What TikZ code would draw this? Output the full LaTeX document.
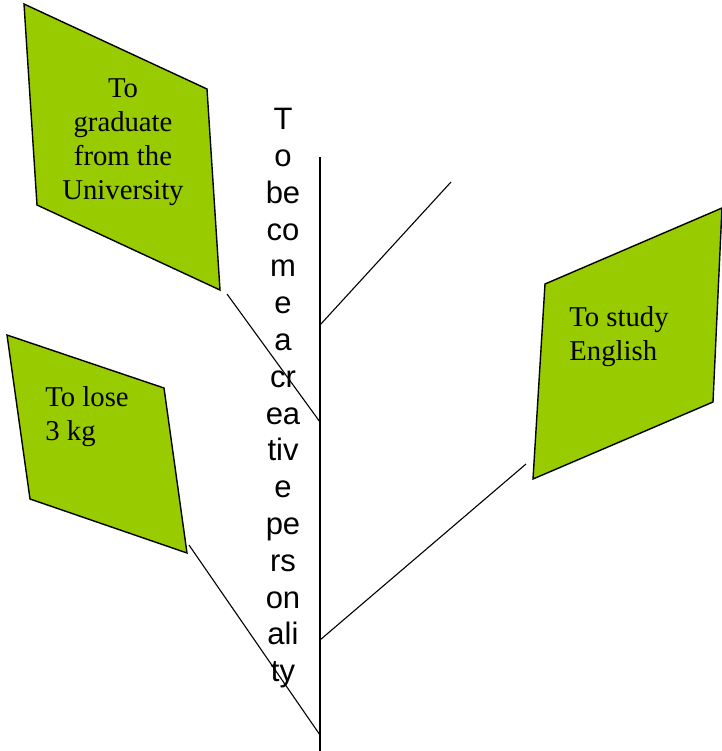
\documentclass[tikz,border=0pt]{standalone}
\usepackage{fontspec}
\setmainfont{Liberation Serif}
\setsansfont{Liberation Sans}
\definecolor{leafgreen}{HTML}{99CC00}
\tikzset{
  leaf/.style={fill=leafgreen,draw=black,line width=0.7pt,line join=miter},
  wish/.style={font=\fontsize{14.35pt}{17pt}\selectfont,inner sep=0pt},
  twig/.style={line width=0.55pt}
}
\begin{document}
\begin{tikzpicture}[x=0.5pt,y=-0.5pt]
			\useasboundingbox (0,0) rectangle (722,751);
			% leaves
			\filldraw[leaf] (24,4) -- (207,89) -- (220,290) -- (37,205) -- cycle;
			\filldraw[leaf] (7,335) -- (164,388) -- (187,553) -- (30,499) -- cycle;
			\filldraw[leaf] (545,284) -- (722,208) -- (713,402) -- (533,479) -- cycle;
			\draw
			(123,78) node[wish,anchor=north,align=center](grad){To\\graduate\\from the\\University}
			(45,386) node[wish,anchor=north west,align=left](lose){To lose\\3 kg}
			(569,306) node[wish,anchor=north west,align=left](eng){To study\\English};
			% stem and its text
			\node[font=\sffamily\fontsize{15.5pt}{18.4pt}\selectfont,align=center,anchor=north,inner sep=0pt] (goal) at (283,108)
			{T\\o\\be\\co\\m\\e\\a\\cr\\ea\\tiv\\e\\pe\\rs\\on\\ali\\ty};
			\coordinate (top) at (320,157);
			\coordinate (bot) at (320,751);
			\draw[line width=0.75pt] (top) -- (bot);
			% twigs
			\coordinate (s1) at (320,325); \coordinate (t1) at (451,182);
			\coordinate (s2) at (320,640); \coordinate (t2) at (526,464);
			\coordinate (s3) at (320,422); \coordinate (t3) at (227,294);
			\coordinate (s4) at (320,735); \coordinate (t4) at (189,545);
			\draw[twig] (s1) -- (t1) (s2) -- (t2) (s3) -- (t3) (s4) -- (t4);
		\end{tikzpicture}
\end{document}
